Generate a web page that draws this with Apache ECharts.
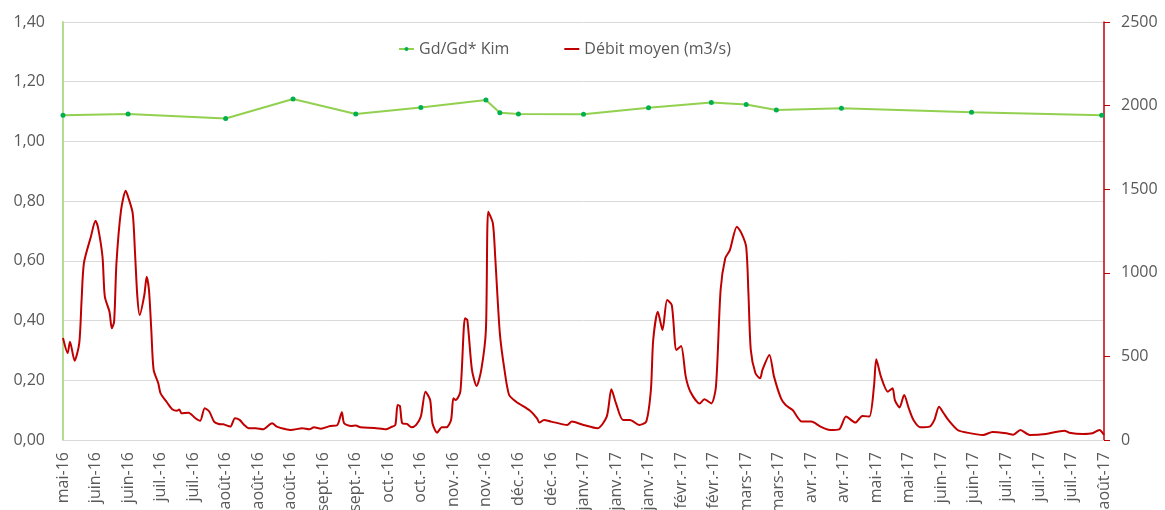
<!DOCTYPE html>
<html>
<head>
<meta charset="utf-8">
<title>Gd/Gd* Kim et débit moyen</title>
<script src="https://cdn.jsdelivr.net/npm/echarts@6/dist/echarts.min.js"></script>
<style>
  html, body { margin: 0; padding: 0; background: #fff; }
  #chart { width: 1165px; height: 510px; }
</style>
</head>
<body>
<div id="chart"></div>
<script>
// axe des dates : une étiquette tous les 14 jours à partir du 23/05/2016
var xLabels = [
  "mai-16", "juin-16", "juin-16", "juil.-16", "juil.-16", "août-16", "août-16", "août-16",
  "sept.-16", "sept.-16", "oct.-16", "oct.-16", "nov.-16", "nov.-16", "déc.-16", "déc.-16",
  "janv.-17", "janv.-17", "janv.-17", "févr.-17", "févr.-17", "mars-17", "mars-17",
  "avr.-17", "avr.-17", "mai-17", "mai-17", "juin-17", "juin-17",
  "juil.-17", "juil.-17", "juil.-17", "août-17"
];

// Gd/Gd* Kim (jours depuis le 23/05/2016)
var gdDays = [0, 28, 70, 99, 126, 154, 182, 188, 196, 224, 252, 279, 294, 307, 335, 391, 447];
var gdValues = [1.088, 1.092, 1.077, 1.142, 1.092, 1.114, 1.139, 1.096, 1.092, 1.091, 1.113, 1.130, 1.124, 1.105, 1.111, 1.098, 1.088];

// débit moyen (m3/s)
var flowDays = [
  0, 2, 3, 5, 7, 8, 9, 12, 14, 15, 17, 18, 20, 21, 22, 23, 25, 27, 28, 30,
  31, 32, 33, 35, 36, 37, 38, 39, 41, 42, 45, 47, 49, 50, 51, 54, 57, 59, 61, 63,
  65, 67, 69, 72, 74, 76, 78, 80, 83, 86, 90, 92, 96, 98, 103, 106, 108, 111, 115, 118,
  120, 121, 124, 126, 128, 134, 139, 141, 143, 144, 145, 146, 148, 150, 152, 154, 156, 158, 159, 161,
  163, 165, 167, 168, 169, 171, 173, 174, 176, 178, 180, 182, 183, 185, 186, 188, 190, 192, 195, 201,
  204, 205, 207, 210, 212, 217, 219, 224, 230, 234, 236, 238, 241, 244, 248, 251, 253, 254, 256, 258,
  260, 262, 264, 266, 268, 270, 274, 276, 279, 281, 283, 285, 287, 290, 292, 294, 295, 296, 298, 300,
  301, 304, 306, 309, 311, 314, 318, 322, 326, 330, 334, 337, 341, 344, 347, 349, 350, 352, 355, 357,
  358, 360, 362, 364, 366, 369, 373, 375, 377, 379, 381, 385, 389, 396, 400, 406, 409, 412, 416, 423,
  431, 433, 439, 443, 446, 448
];
var flowValues = [
  610, 520, 588, 474, 580, 837, 1058, 1216, 1311, 1276, 1096, 857, 767, 668, 708, 1057, 1376, 1491, 1455, 1356,
  1117, 857, 748, 867, 977, 897, 658, 419, 339, 279, 220, 184, 175, 183, 160, 163, 130, 115, 190, 169,
  110, 96, 94, 80, 130, 120, 90, 70, 70, 64, 100, 80, 64, 60, 70, 64, 76, 68, 84, 88,
  166, 100, 84, 86, 76, 72, 64, 76, 90, 209, 203, 100, 96, 76, 90, 140, 289, 239, 100, 44,
  76, 76, 120, 249, 239, 289, 728, 718, 419, 323, 419, 658, 1365, 1296, 1096, 638, 419, 269, 229, 175,
  130, 104, 120, 110, 104, 90, 110, 90, 70, 140, 303, 219, 120, 120, 90, 110, 299, 598, 767, 658,
  837, 807, 538, 562, 379, 289, 219, 243, 219, 319, 897, 1087, 1136, 1276, 1236, 1156, 870, 538, 399, 369,
  419, 508, 379, 249, 209, 179, 110, 110, 80, 60, 64, 140, 104, 144, 140, 319, 483, 379, 289, 309,
  239, 195, 269, 189, 120, 76, 80, 120, 199, 160, 120, 60, 44, 30, 48, 40, 32, 60, 30, 36,
  56, 44, 36, 40, 60, 30
];

var labelColor = "#595959";
var labelFont = "Open Sans";

var chart = echarts.init(document.getElementById("chart"));

var option = {
  animation: false,
  textStyle: { fontFamily: labelFont },
  legend: {
    left: 393,
    top: 36,
    itemGap: 55,
    itemWidth: 15,
    itemHeight: 5,
    textStyle: { color: labelColor, fontSize: 16, fontFamily: labelFont },
    data: [
      { name: "Gd/Gd* Kim" },
      { name: "Débit moyen (m3/s)", icon: "path://M0,0 L15,0 L15,2 L0,2 Z" }
    ]
  },
  grid: { left: 63, right: 61, top: 22, bottom: 70, outerBoundsMode: "none" },
  xAxis: {
    type: "value",
    min: 0,
    max: 448,
    interval: 14,
    axisLine: { show: true, lineStyle: { color: "#d9d9d9", width: 1 } },
    axisTick: { show: false },
    splitLine: { show: false },
    axisLabel: {
      rotate: 90,
      margin: 12,
      color: labelColor,
      fontSize: 16,
      fontFamily: labelFont,
      formatter: function (v) { return xLabels[Math.round(v / 14)] || ""; }
    }
  },
  yAxis: [
    {
      type: "value",
      min: 0,
      max: 1.4,
      interval: 0.2,
      position: "left",
      axisLine: { show: true, lineStyle: { color: "#b4dd8f", width: 2 } },
      axisTick: { show: false },
      splitLine: { show: true, lineStyle: { color: "#d9d9d9", width: 1 } },
      axisLabel: {
        margin: 18,
        color: labelColor,
        fontSize: 16,
        fontFamily: labelFont,
        formatter: function (v) { return v.toFixed(2).replace(".", ","); }
      }
    },
    {
      type: "value",
      min: 0,
      max: 2500,
      interval: 500,
      position: "right",
      axisLine: { show: true, lineStyle: { color: "#c00000", width: 1.5 } },
      axisTick: { show: true, inside: false, length: 6, lineStyle: { color: "#c00000" } },
      splitLine: { show: false },
      axisLabel: {
        margin: 17,
        color: labelColor,
        fontSize: 16,
        fontFamily: labelFont,
        formatter: function (v) { return String(v); }
      }
    }
  ],
  series: [
    {
      name: "Gd/Gd* Kim",
      type: "line",
      yAxisIndex: 0,
      symbol: "circle",
      symbolSize: 5,
      itemStyle: { color: "#00b050" },
      lineStyle: { color: "#92d050", width: 2 },
      data: gdDays.map(function (d, i) { return [d, gdValues[i]]; }),
      z: 3
    },
    {
      name: "Débit moyen (m3/s)",
      type: "line",
      yAxisIndex: 1,
      showSymbol: false,
      symbol: "none",
      smooth: 0.25,
      itemStyle: { color: "#c00000" },
      lineStyle: { color: "#c00000", width: 2 },
      data: flowDays.map(function (d, i) { return [d, flowValues[i]]; }),
      z: 2
    }
  ]
};

chart.setOption(option);
</script>
</body>
</html>
